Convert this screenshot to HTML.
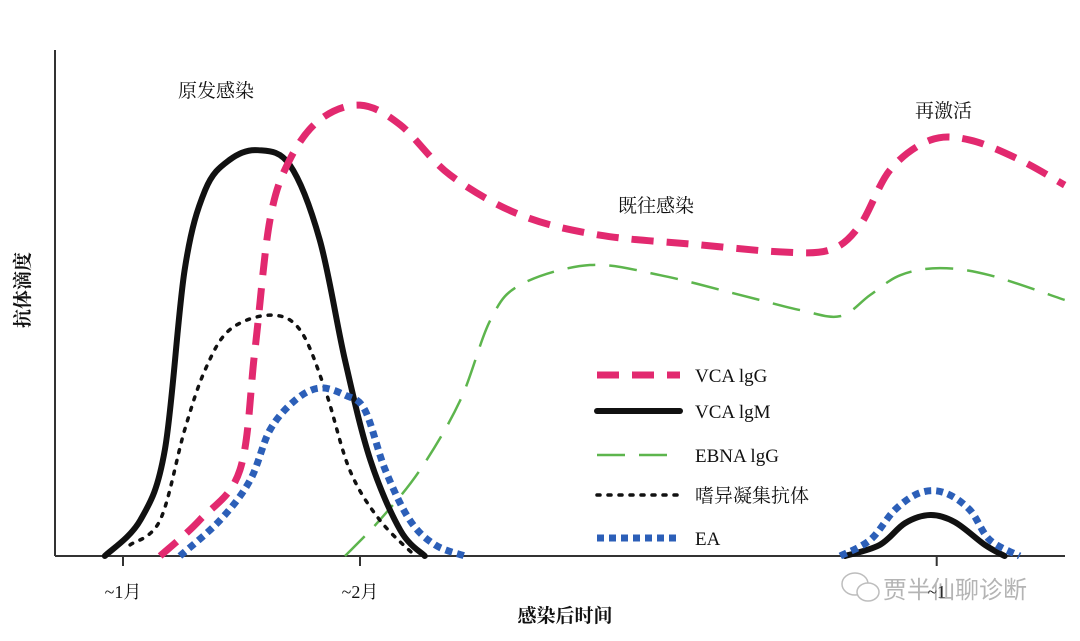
<!DOCTYPE html>
<html><head><meta charset="utf-8"><style>
body{margin:0;background:#fff;width:1080px;height:636px;overflow:hidden}
svg text{font-family:"Liberation Serif","Noto Serif CJK SC",serif;fill:#111}
</style></head><body>
<svg id="chart" width="1080" height="636" viewBox="0 0 1080 636" xmlns="http://www.w3.org/2000/svg">
<g id="axes"></g>
<g id="series"></g>
<g id="legend"></g>
<text x="178" y="97" font-size="19">原发感染</text>
<text x="618" y="212" font-size="19">既往感染</text>
<text x="915" y="117" font-size="19">再激活</text>
<text transform="translate(29,290) rotate(-90)" text-anchor="middle" font-size="19" font-weight="bold">抗体滴度</text>
<text x="565" y="622" text-anchor="middle" font-size="19" font-weight="bold">感染后时间</text>
<g opacity="0.55">
<ellipse cx="855" cy="584" rx="13" ry="11" fill="none" stroke="#888" stroke-width="1.5"/>
<ellipse cx="868" cy="592" rx="11" ry="9" fill="#fff" stroke="#888" stroke-width="1.5"/>
<text x="883" y="598" font-size="24" style="fill:#777;font-family:'Noto Sans CJK SC',sans-serif">贾半仙聊诊断</text>
</g>
</svg>
<script>
const tickValues=[30,60,133];
const tickLabels=["~1月","~2月","~1"];
const legendLabels=["VCA lgG","VCA lgM","EBNA lgG","嗜异凝集抗体","EA"];
const vcaIgG=[[34.7,0],[39.7,7.1],[44.8,17],[46.7,40.7],[48.6,66.4],[51.1,78.3],[54.9,86.2],[60,89.1],[65.1,85.2],[71.4,75.3],[80.3,67.4],[90.4,63.4],[103,61.5],[113.2,60.1],[119.5,60.5],[123.3,65.4],[127.1,76.3],[132.2,82.2],[137.2,82.2],[143.5,78.3],[149.2,73.3]];
const vcaIgM1=[[27.7,0],[32.2,7.1],[35.3,21],[37.8,56.5],[40.4,72.3],[43.5,78.3],[47.1,80.2],[51.1,77.3],[54.9,62.5],[58.1,38.7],[61.3,19],[65.1,5.1],[68.2,0]];
const vcaIgM2=[[121.4,0],[125.8,2.2],[129,6.5],[132.2,8.1],[135.3,6.7],[139.1,2.2],[141.6,0]];
const heterophile=[[30.9,2.2],[34.7,7.1],[37.8,24.9],[40.4,36.8],[43.5,44.7],[48.6,47.6],[52.4,44.7],[55.6,32.8],[58.7,17],[62.5,7.1],[67,0]];
const ea1=[[37.2,0],[42.3,7.1],[46.1,15],[48.6,24.9],[51.8,30.8],[54.9,33.2],[58.1,31.8],[60.6,28.9],[63.2,17],[66.3,7.1],[69.5,2.2],[73.3,0]];
const ea2=[[120.8,0],[124.6,3.2],[127.7,9.1],[130.9,12.5],[134,12.5],[137.2,9.1],[139.7,3.2],[143.5,0]];
const ebna=[[58.1,0],[62.5,7.1],[67.6,17],[72.7,30.8],[76.5,46.6],[80.3,53.6],[89.1,57.5],[98,55.5],[108.1,51.6],[115.7,48.6],[120.8,47.4],[124.6,51.6],[128.4,55.5],[133.4,56.9],[139.7,55.5],[149.2,50.6]];
const X=t=>123+(t-30)*7.9, Y=v=>556-v*5.06;
const NS="http://www.w3.org/2000/svg";
function mk(tag,attrs,parent){const e=document.createElementNS(NS,tag);for(const k in attrs)e.setAttribute(k,attrs[k]);parent.appendChild(e);return e;}
function pathFor(data){const p=data.map(d=>[X(d[0]),Y(d[1])]);let s="M"+p[0][0]+","+p[0][1];
for(let i=0;i<p.length-1;i++){const p0=p[i-1]||p[i],p1=p[i],p2=p[i+1],p3=p[i+2]||p2;
s+=" C"+(p1[0]+(p2[0]-p0[0])/6)+","+(p1[1]+(p2[1]-p0[1])/6)+" "+(p2[0]-(p3[0]-p1[0])/6)+","+(p2[1]-(p3[1]-p1[1])/6)+" "+p2[0]+","+p2[1];}return s;}
const axes=document.getElementById('axes');
const ya=mk('line',{x1:55,y1:50,x2:55,y2:556,stroke:'#333','stroke-width':2},axes);


const xa=mk('line',{x1:55,y1:556,x2:1065,y2:556,stroke:'#333','stroke-width':2},axes);


tickValues.forEach((t,i)=>{const l=mk('line',{x1:X(t),y1:556,x2:X(t),y2:566,stroke:'#333','stroke-width':2},axes);


const tx=mk('text',{x:X(t),y:598,'text-anchor':'middle','font-size':18},axes);tx.textContent=tickLabels[i];

});
const styles=[{stroke:'#e2296f',w:7,dash:'22 13',cap:'butt'},{stroke:'#111',w:6,dash:'',cap:'round'},{stroke:'#5db54d',w:2.5,dash:'28 14',cap:'butt'},{stroke:'#111',w:3.5,dash:'3 8',cap:'round'},{stroke:'#2c5fb8',w:7,dash:'7 5',cap:'butt'}];
const sg=document.getElementById('series');
const groups=[[vcaIgG],[vcaIgM1,vcaIgM2],[ebna],[heterophile],[ea1,ea2]];
const names=['vca-igg-line','vca-igm-line','ebna-igg-line','heterophile-antibody-line','ea-line'];
[2,3,1,0,4].forEach(k=>{groups[k].forEach(d=>{const s=styles[k];
const p=mk('path',{d:pathFor(d),fill:'none',stroke:s.stroke,'stroke-width':s.w,'stroke-dasharray':s.dash,'stroke-linecap':s.cap},sg);

});});
const lg=document.getElementById('legend');
const rowsY=[375,411,455,495,538];
legendLabels.forEach((lab,i)=>{const s=styles[i];
const l=mk('line',{x1:597,y1:rowsY[i],x2:680,y2:rowsY[i],stroke:s.stroke,'stroke-width':s.w,'stroke-dasharray':s.dash,'stroke-linecap':s.cap},lg);


const t=mk('text',{x:695,y:rowsY[i]+7,'font-size':19},lg);t.textContent=lab;

});
</script>
</body></html>
